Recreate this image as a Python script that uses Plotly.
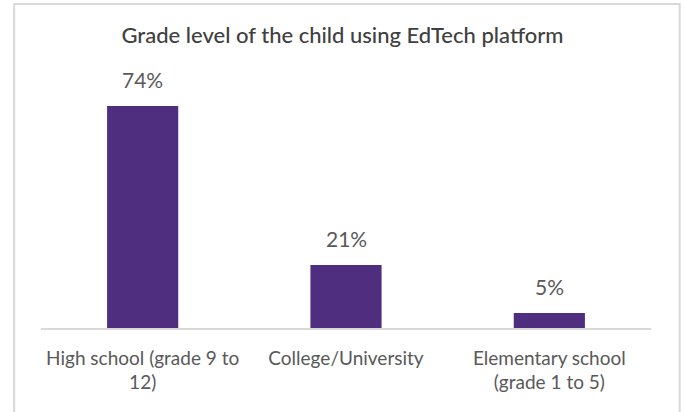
import plotly.graph_objects as go

# Survey result: grade level of the child using the EdTech platform
categories = ["High school (grade 9 to 12)", "College/University", "Elementary school (grade 1 to 5)"]
tick_labels = ["High school (grade 9 to<br>12)", "College/University", "Elementary school<br>(grade 1 to 5)"]
shares = [74, 21, 5]

BAR_COLOR = "#4F2D7F"
TEXT_COLOR = "#595959"
FONT = "Lato"

fig = go.Figure(
    go.Bar(
        x=categories,
        y=shares,
        marker=dict(color=BAR_COLOR, line=dict(width=0)),
        width=0.35,
        hoverinfo="skip",
    )
)

# Percentage labels above each bar
for cat, val in zip(categories, shares):
    fig.add_annotation(
        x=cat, y=val, text=f"{val}%", showarrow=False,
        yanchor="bottom", yshift=12,
        font=dict(family=FONT, size=21, color=TEXT_COLOR),
    )

# Light frame around the chart area
fig.add_shape(
    type="rect", xref="paper", yref="paper",
    x0=-0.044, x1=1.047, y0=-0.4, y1=1.35,
    line=dict(color="#D9D9D9", width=2), fillcolor="rgba(0,0,0,0)", layer="below",
)

fig.update_layout(
    width=685, height=412,
    margin=dict(l=41, r=34, t=88, b=84),
    paper_bgcolor="white", plot_bgcolor="white",
    showlegend=False,
    title=dict(
        text="Grade level of the child using EdTech platform",
        x=0.5, xanchor="center", y=0.915, yanchor="middle",
        font=dict(family=FONT, size=22, color="#404040", weight=500),
    ),
    xaxis=dict(
        tickmode="array", tickvals=categories, ticktext=tick_labels,
        showline=True, linecolor="#D9D9D9", linewidth=1.5,
        showgrid=False, ticks="", ticklabelstandoff=12,
        tickfont=dict(family=FONT, size=19, color=TEXT_COLOR),
    ),
    yaxis=dict(range=[0, 80], visible=False, showgrid=False, zeroline=False),
)

fig.write_html("out.html")
